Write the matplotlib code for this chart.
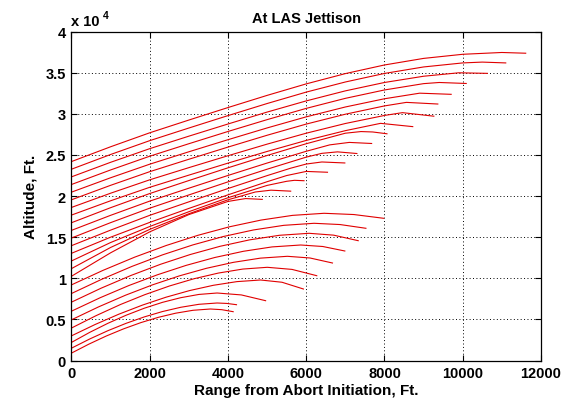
import matplotlib.pyplot as plt

# upper group of trajectories (top curve first), range in ft, altitude in ft
upper_x = [
    [0, 1000, 2000, 3000, 4000, 5000, 6000, 7000, 8000, 9000, 10000, 11000, 11610],
    [0, 1000, 2000, 3000, 4000, 5000, 6000, 7000, 8000, 9000, 10000, 10500, 11100],
    [0, 1000, 2000, 3000, 4000, 5000, 6000, 7000, 8000, 9000, 9900, 10630],
    [0, 1000, 2000, 3000, 4000, 5000, 6000, 7000, 8000, 9000, 9400, 10090],
    [0, 1000, 2000, 3000, 4000, 5000, 6000, 7000, 8000, 8900, 9705],
    [0, 1000, 2000, 3000, 4000, 5000, 6000, 7000, 8000, 8560, 9364],
    [0, 1000, 2000, 3000, 4000, 5000, 6000, 7000, 8000, 8460, 9262],
    [0, 1000, 2000, 3000, 4000, 5000, 6000, 7000, 7900, 8723],
    [0, 1000, 2000, 3000, 4000, 5000, 6000, 7000, 7400, 7700, 8064],
    [0, 1000, 2000, 3000, 4000, 5000, 6000, 6600, 7100, 7672],
    [0, 1000, 2000, 3000, 4000, 5000, 6000, 6400, 6800, 7295],
    [0, 1000, 2000, 3000, 4000, 5000, 5600, 6000, 6400, 6987],
    [0, 1000, 2000, 3000, 4000, 5000, 5500, 6000, 6544],
    [0, 1000, 2000, 3000, 4000, 5000, 5500, 5700, 5944],
    [0, 1000, 2000, 3000, 4000, 4700, 5100, 5603],
    [0, 1000, 2000, 3000, 4000, 4450, 4877],
]
upper_y = [
    [24200, 26000, 27700, 29250, 30770, 32250, 33650, 34900, 35950, 36750, 37250, 37470, 37380],
    [23270, 25060, 26745, 28280, 29790, 31260, 32650, 33880, 34920, 35710, 36200, 36300, 36200],
    [22340, 24110, 25770, 27290, 28770, 30220, 31580, 32800, 33820, 34580, 35000, 34930],
    [21410, 23180, 24850, 26370, 27860, 29300, 30670, 31890, 32910, 33680, 33820, 33700],
    [20480, 22230, 23880, 25390, 26860, 28290, 29640, 30840, 31840, 32520, 32380],
    [19550, 21310, 22970, 24480, 25960, 27400, 28760, 29960, 30970, 31400, 31200],
    [18620, 20350, 21980, 23460, 24910, 26320, 27650, 28830, 29810, 30150, 29720],
    [17690, 19430, 21070, 22550, 24010, 25430, 26770, 27960, 28850, 28450],
    [16760, 18590, 20310, 21890, 23440, 24940, 26370, 27650, 27850, 27800, 27580],
    [15830, 17660, 19390, 20960, 22510, 24020, 25450, 26230, 26530, 26400],
    [14900, 16770, 18530, 20140, 21730, 23270, 24740, 25200, 25380, 25180],
    [13970, 15860, 17660, 19300, 20920, 22490, 23390, 23900, 24150, 24030],
    [13040, 15000, 16800, 18500, 20150, 21750, 22500, 23000, 22900],
    [12110, 14350, 16300, 18100, 19800, 21300, 21800, 21920, 21870],
    [11180, 13750, 15950, 17850, 19550, 20500, 20720, 20600],
    [10250, 13100, 15650, 17750, 19350, 19700, 19600],
]

# lower group of trajectories (lowest curve first)
lower_x = [
    [0, 444, 888, 1332, 1776, 2219, 2663, 3107, 3551, 3842, 4133],
    [0, 465, 931, 1396, 1861, 2326, 2792, 3257, 3722, 3970, 4218],
    [0, 465, 931, 1396, 1861, 2326, 2792, 3257, 3722, 4342, 4962],
    [0, 604, 1208, 1812, 2417, 3021, 3625, 4229, 4833, 5381, 5928],
    [0, 626, 1251, 1877, 2503, 3128, 3754, 4379, 5005, 5637, 6269],
    [0, 690, 1380, 2069, 2759, 3449, 4139, 4828, 5518, 6095, 6671],
    [0, 732, 1465, 2197, 2930, 3662, 4394, 5127, 5859, 6423, 6987],
    [0, 759, 1518, 2277, 3037, 3796, 4555, 5314, 6073, 6701, 7329],
    [0, 775, 1550, 2325, 3101, 3876, 4651, 5426, 6201, 6864, 7526],
    [0, 807, 1614, 2421, 3229, 4036, 4843, 5650, 6457, 7218, 7979],
]
lower_y = [
    [900, 1989, 2976, 3851, 4613, 5251, 5755, 6109, 6265, 6183, 5937],
    [1500, 2615, 3627, 4522, 5303, 5956, 6473, 6836, 6995, 6943, 6788],
    [2200, 3420, 4526, 5506, 6360, 7075, 7640, 8037, 8211, 7977, 7275],
    [3000, 4379, 5629, 6736, 7701, 8509, 9148, 9596, 9793, 9519, 8698],
    [3950, 5450, 6809, 8013, 9062, 9942, 10636, 11124, 11338, 11082, 10316],
    [4950, 6518, 7940, 9199, 10296, 11216, 11942, 12452, 12676, 12472, 11861],
    [6000, 7634, 9116, 10428, 11571, 12529, 13286, 13818, 14051, 13868, 13321],
    [7100, 8800, 10341, 11706, 12895, 13891, 14678, 15231, 15474, 15249, 14574],
    [8150, 9884, 11455, 12848, 14060, 15077, 15880, 16443, 16691, 16539, 16083],
    [9200, 10968, 12570, 13989, 15226, 16262, 17081, 17655, 17908, 17756, 17300],
]

x_ticks = [0, 2000, 4000, 6000, 8000, 10000, 12000]
y_ticks = [0, 5000, 10000, 15000, 20000, 25000, 30000, 35000, 40000]
y_tick_labels = ['0', '0.5', '1', '1.5', '2', '2.5', '3', '3.5', '4']

plt.rcParams['font.family'] = ['Liberation Sans', 'DejaVu Sans']

fig = plt.figure(figsize=(5.75, 4.06), dpi=100)
fig.patch.set_facecolor('white')
ax = fig.add_axes([0.1243, 0.1096, 0.8165, 0.8099])

for xs, ys in zip(upper_x, upper_y):
    ax.plot(xs, ys, color='#e00000', linewidth=0.8)
for xs, ys in zip(lower_x, lower_y):
    ax.plot(xs, ys, color='#e00000', linewidth=0.8)

ax.set_xlim(0, 12000)
ax.set_ylim(0, 40000)
ax.set_xticks(x_ticks)
ax.set_xticklabels([str(v) for v in x_ticks])
ax.set_yticks(y_ticks)
ax.set_yticklabels(y_tick_labels)

# grid punteada estilo matlab
ax.grid(True, linestyle=(0, (1, 2.5)), color='black', linewidth=0.7)
ax.tick_params(direction='in', top=True, right=True, length=4, width=0.8,
               labelsize=10.5, pad=4)
for lab in ax.get_xticklabels() + ax.get_yticklabels():
    lab.set_fontweight('bold')
for s in ax.spines.values():
    s.set_linewidth(0.9)

ax.set_title('At LAS Jettison', fontweight='bold', fontsize=10.5, pad=7)
ax.set_xlabel('Range from Abort Initiation, Ft.', fontweight='bold', fontsize=11, labelpad=2)
ax.set_ylabel('Altitude, Ft.', fontweight='bold', fontsize=11, labelpad=6)

# multiplicador del eje y
ax.text(0.0, 1.012, 'x 10', transform=ax.transAxes, fontweight='bold',
        fontsize=10.5, ha='left', va='bottom')
ax.text(0.066, 1.036, '4', transform=ax.transAxes, fontweight='bold',
        fontsize=7.5, ha='left', va='bottom')

fig.savefig('out.png', dpi=100, facecolor='white')
